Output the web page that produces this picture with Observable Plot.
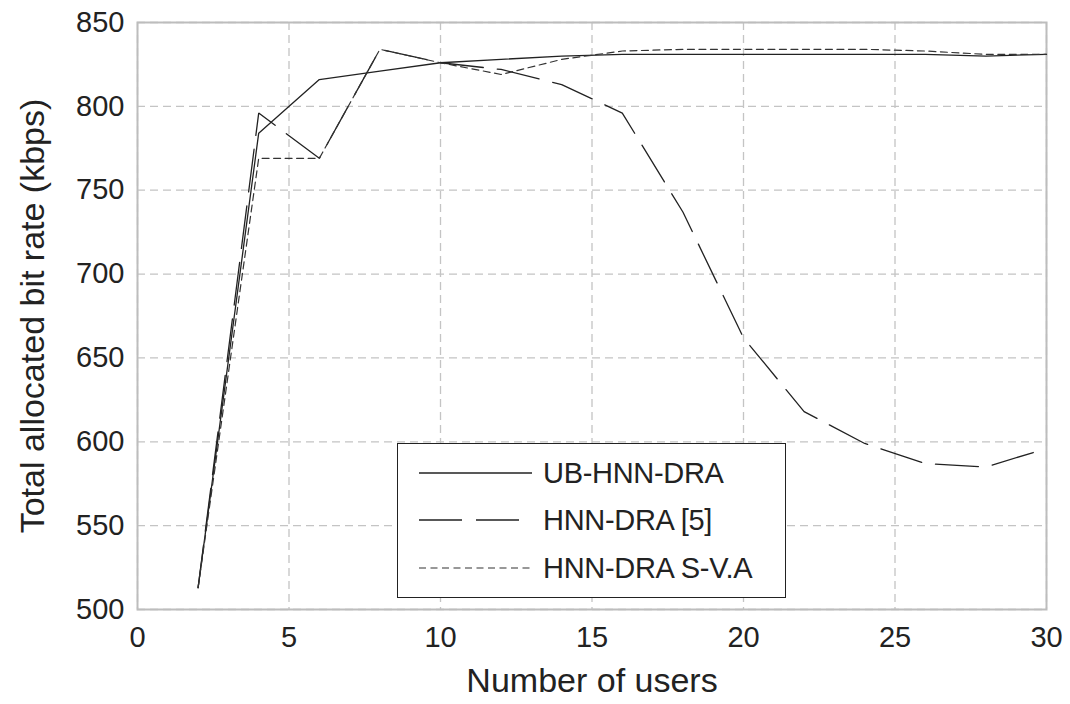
<!DOCTYPE html>
<html>
<head>
<meta charset="utf-8">
<script src="https://cdn.jsdelivr.net/npm/d3@7"></script>
<script src="https://cdn.jsdelivr.net/npm/@observablehq/plot@0.6"></script>
<style>
  html, body { margin: 0; padding: 0; background: #fff; }
  #wrap { position: relative; width: 1070px; height: 704px; font-family: "Liberation Sans", Arial, sans-serif; }
  #legend { position: absolute; left: 397px; top: 443px; width: 387px; height: 153px;
    border: 1.5px solid #222; background: #fff; box-sizing: content-box; }
  .row { position: absolute; left: 0; height: 40px; display: flex; align-items: center; }
  .row svg { margin-left: 21px; }
  .row span { margin-left: 11px; font-size: 29px; color: #222; letter-spacing: -0.3px; }
</style>
</head>
<body>
<div id="wrap"></div>
<script>
const users = [2, 4, 6, 8, 10, 12, 14, 16, 18, 20, 22, 24, 26, 28, 30];
const ubHnnDra = [513, 784, 816, 821, 826, 828, 830, 831, 831, 831, 831, 831, 831, 830, 831];
const hnnDra5 = [513, 796, 769, 834, 826, 822, 813, 796, 737, 662, 618, 599, 587, 585, 596];
const hnnDraSVA = [513, 769, 769, 834, 826, 819, 828, 833, 834, 834, 834, 834, 833, 831, 831];
const seriesNames = ["UB-HNN-DRA", "HNN-DRA [5]", "HNN-DRA S-V.A"];
const xTicks = [0, 5, 10, 15, 20, 25, 30];
const yTicks = [500, 550, 600, 650, 700, 750, 800, 850];
const xLabel = "Number of users";
const yLabel = "Total allocated bit rate (kbps)";

const styles = [
  {dash: null, width: 1.3, color: "#222"},
  {dash: "43,14", width: 1.3, color: "#222"},
  {dash: "7,4.5", width: 1.2, color: "#333"}
];

const seriesValues = [ubHnnDra, hnnDra5, hnnDraSVA];
const rows = (vals) => users.map((u, i) => ({x: u, y: vals[i]}));

const font = "Liberation Sans, Arial, sans-serif";

const chart = Plot.plot({
  width: 1070,
  height: 704,
  marginLeft: 137,
  marginRight: 24,
  marginTop: 22,
  marginBottom: 95,
  style: {fontFamily: font, color: "#222", background: "#fff"},
  x: {domain: [0, 30]},
  y: {domain: [500, 850]},
  marks: [
    Plot.gridX(xTicks, {stroke: "#c4c4c4", strokeOpacity: 1, strokeDasharray: "8,5", strokeWidth: 1.3}),
    Plot.gridY(yTicks, {stroke: "#c4c4c4", strokeOpacity: 1, strokeDasharray: "8,5", strokeWidth: 1.3}),
    Plot.frame({stroke: "#bdbdbd", strokeWidth: 2}),
    Plot.axisX(xTicks, {tickSize: 0, tickPadding: 17, fontSize: 29, label: null, fill: "#222"}),
    Plot.axisY(yTicks, {tickSize: 0, tickPadding: 13, fontSize: 29, label: null, fill: "#222"}),
    ...seriesValues.map((vals, k) => Plot.line(rows(vals), {
      x: "x", y: "y",
      stroke: styles[k].color,
      strokeWidth: styles[k].width,
      strokeDasharray: styles[k].dash,
      strokeLinejoin: "miter"
    })),
    Plot.text([xLabel], {frameAnchor: "bottom", dy: 82, fontSize: 34, fill: "#222"}),
    Plot.text([yLabel], {frameAnchor: "left", textAnchor: "middle", dx: -104, rotate: -90, fontSize: 34, fill: "#222"})
  ]
});

const wrap = document.getElementById("wrap");
wrap.appendChild(chart);

const legend = document.createElement("div");
legend.id = "legend";
const rowTops = [9, 56, 104];
seriesNames.forEach((name, k) => {
  const row = document.createElement("div");
  row.className = "row";
  row.style.top = rowTops[k] + "px";
  const s = styles[k];
  row.innerHTML = `<svg width="113" height="10"><line x1="0" y1="5" x2="113" y2="5" stroke="${s.color}" stroke-width="${s.width}" ${s.dash ? `stroke-dasharray="${s.dash}"` : ""}/></svg><span>${name}</span>`;
  legend.appendChild(row);
});
wrap.appendChild(legend);
</script>
</body>
</html>
